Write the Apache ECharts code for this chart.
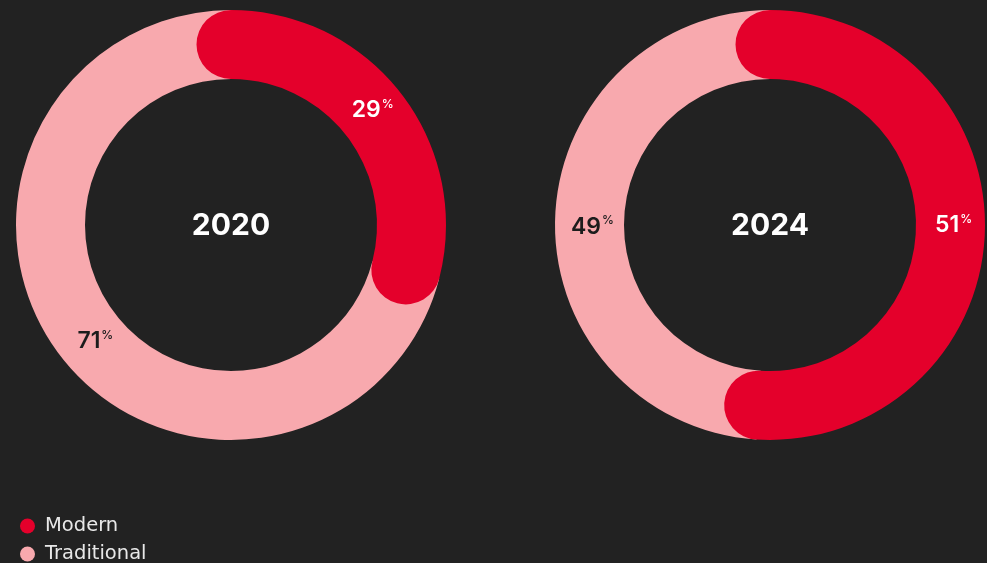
<!DOCTYPE html>
<html>
<head>
<meta charset="utf-8">
<script src="https://cdn.jsdelivr.net/npm/echarts@6/dist/echarts.min.js"></script>
<style>
html,body{margin:0;padding:0;background:#222222;}
#chart{width:987px;height:563px;}
</style>
</head>
<body>
<div id="chart"></div>
<script>
const years = ['2020', '2024'];
const seriesNames = ['Modern', 'Traditional'];
const modern = [29, 51];
const traditional = [71, 49];

const RED = '#E4002B';
const PINK = '#F8A9AE';
const FONT = 'Inter, "Noto Sans", sans-serif';
const LEGEND_FONT = '"DejaVu Sans", sans-serif';
const centers = [[231, 225], [770, 225]];
const labelColors = ['#ffffff', '#1c1c1c'];
const MID_R = 180.5;
const LABEL_SHIFT_DEG = -2; // labels sit slightly counter-clockwise of the arc middle

function buildOption() {
  const polar = [], angleAxis = [], radiusAxis = [], series = [], graphic = [];
  years.forEach((y, i) => {
    polar.push({ center: centers[i], radius: [146, 215] });
    angleAxis.push({
      polarIndex: i, type: 'value', min: 0, max: 100, startAngle: 90, clockwise: true,
      axisLine: { show: false }, axisTick: { show: false }, axisLabel: { show: false }, splitLine: { show: false }
    });
    radiusAxis.push({
      polarIndex: i, type: 'category', data: [y],
      axisLine: { show: false }, axisTick: { show: false }, axisLabel: { show: false }, splitLine: { show: false }
    });
    const vals = [modern[i], traditional[i]];
    const cols = [RED, PINK];
    let acc = 0;
    vals.forEach((v, k) => {
      const midDeg = (acc + v / 2) / 100 * 360;
      acc += v;
      const a0 = midDeg * Math.PI / 180;
      const a1 = (midDeg + LABEL_SHIFT_DEG) * Math.PI / 180;
      const off = [MID_R * (Math.sin(a1) - Math.sin(a0)), -MID_R * (Math.cos(a1) - Math.cos(a0))];
      series.push({
        type: 'bar', name: seriesNames[k], coordinateSystem: 'polar', polarIndex: i,
        stack: 'ring' + i, data: [v], barWidth: '100%', roundCap: k === 0, z: k === 0 ? 3 : 2,
        itemStyle: { color: cols[k] },
        label: {
          show: true, position: 'middle', rotate: 0, offset: [off[0] + 3, off[1] + 1],
          formatter: '{v|' + v + '}{p|%}',
          rich: {
            v: { fontFamily: FONT, fontSize: 23, fontWeight: 600, color: labelColors[k], lineHeight: 24 },
            p: { fontFamily: FONT, fontSize: 12, fontWeight: 500, color: labelColors[k], lineHeight: 14, verticalAlign: 'top', padding: [0, 0, 0, 1] }
          }
        }
      });
    });
    graphic.push({
      type: 'text', x: centers[i][0], y: centers[i][1] + 1,
      style: { text: y, font: 'bold 30px ' + FONT, fill: '#ffffff', align: 'center', verticalAlign: 'middle' }
    });
  });

  const legend = seriesNames.map((n, k) => ({
    data: [n], orient: 'vertical', left: 20, top: 516 + k * 28, padding: 0,
    icon: 'circle', itemWidth: 15, itemHeight: 15, itemGap: 10,
    textStyle: { color: '#e8e8e8', fontSize: 19.5, fontFamily: LEGEND_FONT, lineHeight: 18, padding: [0, 0, 0, 5] },
    selectedMode: false
  }));

  return {
    backgroundColor: '#222222',
    animation: false,
    polar, angleAxis, radiusAxis, series, graphic, legend
  };
}

let chart = echarts.init(document.getElementById('chart'));
chart.setOption(buildOption());

if (document.fonts && document.fonts.load) {
  Promise.all([
    document.fonts.load('bold 30px Inter'),
    document.fonts.load('600 23px Inter'),
    document.fonts.load('500 12px Inter'),
    document.fonts.load('18px "DejaVu Sans"')
  ]).then(() => {
    chart.dispose();
    chart = echarts.init(document.getElementById('chart'));
    chart.setOption(buildOption());
  }).catch(() => {});
}
</script>
</body>
</html>
